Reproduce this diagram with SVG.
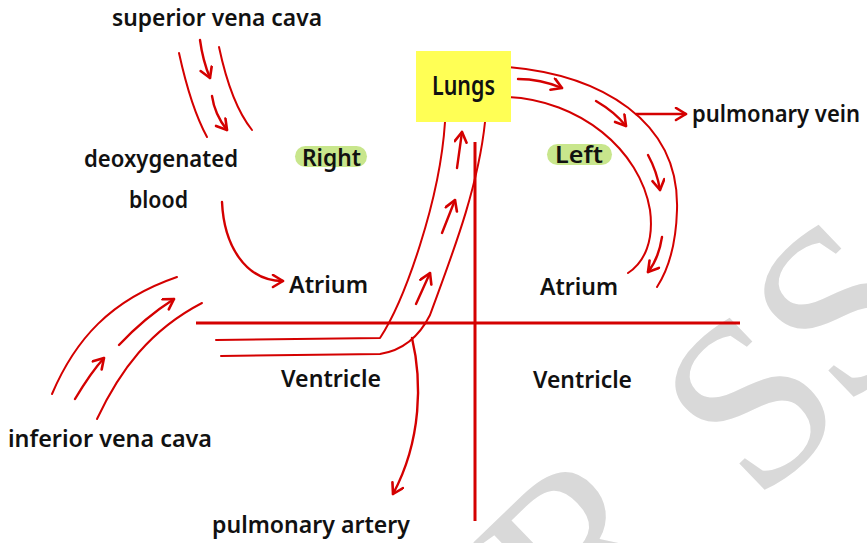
<svg xmlns="http://www.w3.org/2000/svg" width="867" height="543" viewBox="0 0 867 543">
<defs>
<style>
.wm{font-family:"Liberation Serif",serif;font-size:240px;fill:#d9d9d9;text-anchor:middle}
.t{font-family:"Noto Sans","DejaVu Sans",sans-serif;font-weight:600;font-size:24px;fill:#111;}
.ln{fill:none;stroke:#d40000;stroke-width:2;stroke-linecap:round;stroke-linejoin:round}
.ar{fill:none;stroke:#d40000;stroke-width:2.4;stroke-linecap:round;marker-end:url(#ah)}
.axis{fill:none;stroke:#d40000;stroke-width:3}
</style>
<marker id="ah" markerUnits="userSpaceOnUse" markerWidth="16" markerHeight="16" refX="12" refY="7" orient="auto">
<path d="M2,1 L12,7 L2,13" fill="none" stroke="#d40000" stroke-width="2.6" stroke-linecap="round" stroke-linejoin="round"/>
</marker>
</defs>
<rect width="867" height="543" fill="#fff"/>
<g id="watermark">
<text class="wm" transform="translate(635,605) rotate(-44)">R</text>
<text class="wm" transform="translate(805,459) rotate(-44)">S</text>
<text class="wm" transform="translate(894,366) rotate(-44)">S</text>
</g>
<g id="axes">
<path class="axis" d="M196,323 L740,323"/>
<path class="axis" d="M475,142 L475,521"/>
</g>
<g id="connectors">
<path class="ln" d="M179,53 C186,85 195,115 207,137"/>
<path class="ln" d="M219,47 C226,80 236,110 252,130"/>
<path class="ar" d="M200,40 C202,55 205,66 210,78"/>
<path class="ar" d="M212,96 C214,110 219,120 227,130"/>
<path class="ar" d="M222,202 C224,245 245,281 283,281"/>
<path class="ln" d="M52,394 C75,340 110,300 177,277"/>
<path class="ln" d="M97,419 C120,370 150,330 202,303"/>
<path class="ar" d="M75,399 C84,384 93,370 104,358"/>
<path class="ar" d="M119,345 C135,328 152,313 174,299"/>
<path class="ln" d="M216,340 L380,338 C405,300 440,200 445,122"/>
<path class="ln" d="M221,356 L380,354 C405,350 420,335 430,315 C450,260 478,190 485,122"/>
<path class="ar" d="M412,338 C422,380 422,440 393,494"/>
<path class="ar" d="M416,304 L430,273"/>
<path class="ar" d="M442,233 L455,200"/>
<path class="ar" d="M457,168 L462,132"/>
<path class="ln" d="M508,67 C600,75 680,120 677,210 C676,245 668,270 657,287"/>
<path class="ln" d="M507,97 C580,100 640,150 650,210 C654,240 645,262 628,273"/>
<path class="ar" d="M518,79 C535,79 550,83 562,88"/>
<path class="ar" d="M596,101 C608,108 618,116 626,126"/>
<path class="ar" d="M648,155 C654,166 658,178 660,190"/>
<path class="ar" d="M662,237 C660,250 656,262 648,272"/>
<path class="ar" d="M636,114 L686,114"/>
</g>
<g id="lungs">
<rect x="416" y="51" width="95" height="71" fill="#ffff55"/>
<text class="t" x="432" y="95" textLength="63" lengthAdjust="spacingAndGlyphs" style="font-size:27px">Lungs</text>
</g>
<g id="superior-vena-cava"><text class="t" x="112" y="26" textLength="210" lengthAdjust="spacingAndGlyphs">superior vena cava</text></g>
<g id="deoxygenated-blood">
<text class="t" x="84" y="167" textLength="154" lengthAdjust="spacingAndGlyphs">deoxygenated</text>
<text class="t" x="129" y="208" textLength="59" lengthAdjust="spacingAndGlyphs">blood</text>
</g>
<g id="right">
<rect x="295" y="146" width="72" height="21" rx="10.5" fill="#c8e68c"/>
<text class="t" x="302" y="166" textLength="59" lengthAdjust="spacingAndGlyphs">Right</text>
</g>
<g id="left">
<rect x="547" y="144" width="65" height="21" rx="10.5" fill="#c8e68c"/>
<text class="t" x="555" y="163" textLength="48" lengthAdjust="spacingAndGlyphs">Left</text>
</g>
<g id="right-atrium"><text class="t" x="289" y="293" textLength="79" lengthAdjust="spacingAndGlyphs">Atrium</text></g>
<g id="left-atrium"><text class="t" x="540" y="295" textLength="78" lengthAdjust="spacingAndGlyphs">Atrium</text></g>
<g id="right-ventricle"><text class="t" x="281" y="387" textLength="100" lengthAdjust="spacingAndGlyphs">Ventricle</text></g>
<g id="left-ventricle"><text class="t" x="533" y="388" textLength="99" lengthAdjust="spacingAndGlyphs">Ventricle</text></g>
<g id="inferior-vena-cava"><text class="t" x="8" y="447" textLength="204" lengthAdjust="spacingAndGlyphs">inferior vena cava</text></g>
<g id="pulmonary-artery"><text class="t" x="212" y="533" textLength="198" lengthAdjust="spacingAndGlyphs">pulmonary artery</text></g>
<g id="pulmonary-vein"><text class="t" x="692" y="122" textLength="168" lengthAdjust="spacingAndGlyphs">pulmonary vein</text></g>
</svg>
